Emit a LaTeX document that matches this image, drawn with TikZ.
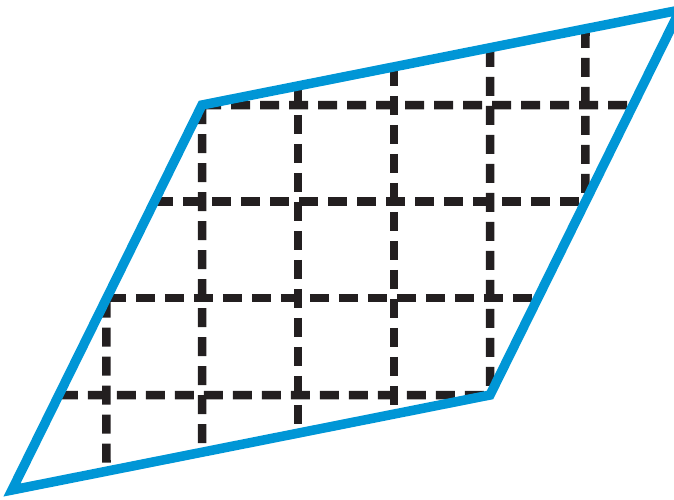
\documentclass[tikz,border=0pt]{standalone}
\definecolor{edgeblue}{HTML}{0096D6}
\definecolor{gridblack}{HTML}{231F20}
\begin{document}
\begin{tikzpicture}[x=1pt,y=-1pt,
  gridline/.style={draw=gridblack,line width=8.5pt,dash pattern=on 19pt off 10pt},
  edgeline/.style={draw=edgeblue,line width=9.5pt,line join=miter}]
\useasboundingbox (0,0) rectangle (674,499);
\coordinate (BL) at (12,490);
\coordinate (BR) at (490,395);
\coordinate (TL) at (202,105);
\coordinate (TR) at (680,10);
% horizontal grid lines
\draw[gridline] (TL) -- (intersection of TR--BR and 0,105--674,105);
\foreach \yy in {201.5,298} {
  \draw[gridline] (intersection of BL--TL and 0,\yy--674,\yy) -- (intersection of TR--BR and 0,\yy--674,\yy);
}
\draw[gridline] (intersection of BL--TL and 0,395--674,395) -- (BR);
% vertical grid lines
\draw[gridline] (intersection of BL--TL and 106.5,0--106.5,499) -- (intersection of BL--BR and 106.5,0--106.5,499);
\draw[gridline] (TL) -- (intersection of BL--BR and 202,0--202,499);
\foreach \xx in {298,394} {
  \draw[gridline] (intersection of TL--TR and \xx,0--\xx,499) -- (intersection of BL--BR and \xx,0--\xx,499);
}
\draw[gridline] (intersection of TL--TR and 490,0--490,499) -- (BR);
\draw[gridline] (intersection of TL--TR and 585.5,0--585.5,499) -- (intersection of TR--BR and 585.5,0--585.5,499);
% parallelogram
\draw[edgeline] (BL) -- (BR) -- (TR) -- (TL) -- cycle;
\end{tikzpicture}
\end{document}
